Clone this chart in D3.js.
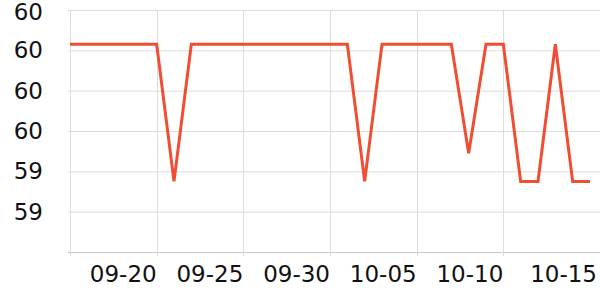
<!DOCTYPE html>
<html>
<head>
<meta charset="utf-8">
<script src="https://cdn.jsdelivr.net/npm/d3@7"></script>
<style>
  body { margin: 0; background: #fff; }
  text { font-family: "DejaVu Sans", sans-serif; }
</style>
</head>
<body>
<svg id="chart" width="600" height="300"></svg>
<script>
// data, one value per day from 09-15 to 10-15
const dates = ["09-15","09-16","09-17","09-18","09-19","09-20","09-21","09-22","09-23","09-24",
    "09-25","09-26","09-27","09-28","09-29","09-30","10-01","10-02","10-03","10-04",
    "10-05","10-06","10-07","10-08","10-09","10-10","10-11","10-12","10-13","10-14","10-15"];
const values = [60.03,60.03,60.03,60.03,60.03,60.03,59.35,60.03,60.03,60.03,
    60.03,60.03,60.03,60.03,60.03,60.03,60.03,59.35,60.03,60.03,
    60.03,60.03,60.03,59.49,60.03,60.03,59.35,59.35,60.03,59.35,59.35];
const xTickLabels = ["09-15","09-20","09-25","09-30","10-05","10-10","10-15"];
const yTicks = [59.0, 59.2, 59.4, 59.6, 59.8, 60.0, 60.2];

const parse = d3.timeParse("%Y-%m-%d");
const toDate = s => parse("2023-" + s);

const margin = {top: 10, right: 0, bottom: 48, left: 70};
const width = 600, height = 300;

const svg = d3.select("#chart");

const x = d3.scaleTime()
    .domain([toDate(dates[0]), toDate(dates[dates.length - 1])])
    .range([margin.left, 590]);

const y = d3.scaleLinear()
    .domain([d3.min(yTicks), d3.max(yTicks)])
    .range([height - margin.bottom, margin.top]);

const fmt = d3.format(".0f");

// horizontal grid + y labels
const yg = svg.append("g");
yg.selectAll("line").data(yTicks).enter().append("line")
    .attr("x1", margin.left - 2).attr("x2", width)
    .attr("y1", d => y(d) + 0.5).attr("y2", d => y(d) + 0.5)
    .attr("stroke", d => d === yTicks[0] ? "#c8c8c8" : "#dddddd")
    .attr("stroke-width", 1);
yg.selectAll("text").data(yTicks.slice(1)).enter().append("text")
    .attr("x", 43).attr("y", d => Math.max(y(d), 12))
    .attr("text-anchor", "end")
    .attr("dominant-baseline", "central")
    .attr("font-size", 23)
    .attr("fill", "#111")
    .text(d => fmt(d));

// vertical grid + x labels
const xTicks = xTickLabels.map(toDate);
const xg = svg.append("g");
xg.selectAll("line").data(xTicks.slice(0, -1)).enter().append("line")
    .attr("x1", d => Math.round(x(d)) + 0.5).attr("x2", d => Math.round(x(d)) + 0.5)
    .attr("y1", margin.top).attr("y2", height - margin.bottom + 4)
    .attr("stroke", "#dddddd");
xg.selectAll("text").data(xTicks.slice(1)).enter().append("text")
    .attr("x", (d, i, n) => i === n.length - 1 ? width - 3 : x(d))
    .attr("y", height - margin.bottom + 30)
    .attr("text-anchor", "end")
    .attr("font-size", 23)
    .attr("fill", "#111")
    .text((d, i) => xTickLabels[i + 1]);

// line
const line = d3.line()
    .x((d, i) => x(toDate(dates[i])))
    .y(d => y(d));

svg.append("path")
    .datum(values)
    .attr("fill", "none")
    .attr("stroke", "#f04e32")
    .attr("stroke-width", 3)
    .attr("d", line);
</script>
</body>
</html>
